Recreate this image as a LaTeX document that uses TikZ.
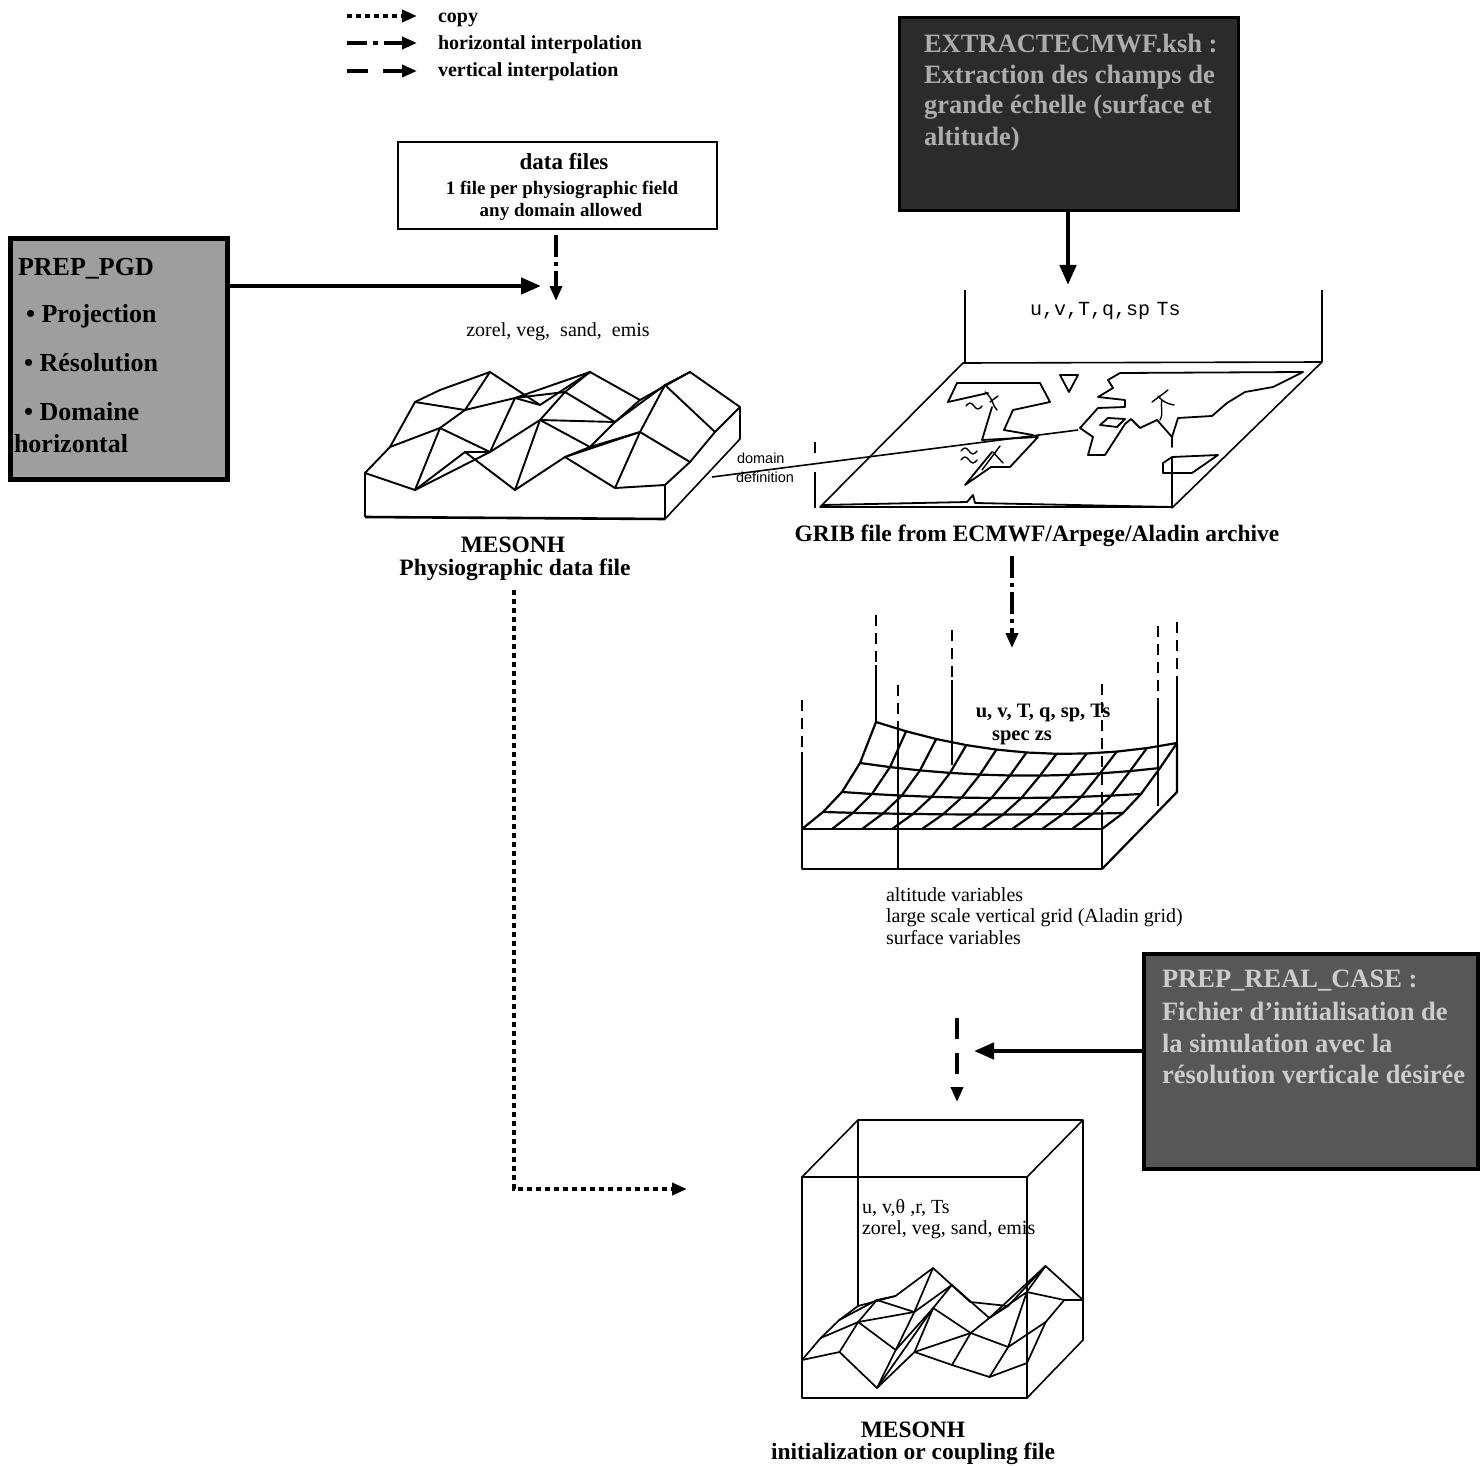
\documentclass[tikz,border=0pt]{standalone}
\usepackage{fontspec}
\setmainfont{Liberation Serif}
\setsansfont{Liberation Sans}
\setmonofont{Liberation Mono}
\usetikzlibrary{arrows.meta}
\newcommand\myfs[2]{\fontsize{#1pt}{#2pt}\selectfont}
\definecolor{pgdfill}{gray}{0.62}
\definecolor{extfill}{gray}{0.17}
\definecolor{exttext}{gray}{0.68}
\definecolor{rcfill}{gray}{0.34}
\definecolor{rctext}{gray}{0.80}
\begin{document}
\begin{tikzpicture}[x=1pt,y=-1pt,
  every node/.style={inner sep=0pt,outer sep=0pt},
  ln/.style={line width=1.6pt,line join=round},
  mesh/.style={line width=1.9pt,line join=round,line cap=round},
  mapl/.style={line width=1.8pt,line join=round,line cap=round},
  tip/.style={-{Triangle[length=15pt,width=12pt]}},
  thickarrow/.style={line width=4.5pt,-{Triangle[length=20pt,width=16pt]}},
  copyline/.style={line width=4pt,dash pattern=on 5pt off 4pt,tip},
  hinterp/.style={line width=3.6pt,dash pattern=on 22pt off 5pt on 4pt off 5pt,tip},
  vinterp/.style={line width=3.6pt,dash pattern=on 21pt off 14pt,tip},
  gdash/.style={line width=2.2pt,dash pattern=on 11pt off 7pt},
  legtxt/.style={font=\bfseries\myfs{20}{24},anchor=base west},
  lbl/.style={font=\myfs{20}{24}},
  blbl/.style={font=\bfseries\myfs{23.5}{27},anchor=base},
  pgdtxt/.style={font=\bfseries\myfs{26}{31},anchor=base west},
  dktxt/.style={font=\bfseries\myfs{26.5}{31},anchor=base west}
]
\useasboundingbox (0,0) rectangle (1481,1466);

% ---------------- legend ----------------
\coordinate (la1) at (347,16); \coordinate (lb1) at (417,16);
\coordinate (la2) at (347,43); \coordinate (lb2) at (417,43);
\coordinate (la3) at (347,71); \coordinate (lb3) at (417,71);
\draw[copyline] (la1) -- (lb1);
\draw[hinterp,dash pattern=on 20pt off 6pt on 5pt off 6pt] (la2) -- (lb2);
\draw[vinterp,dash pattern=on 21pt off 15pt] (la3) -- (lb3);
\node[legtxt] (lt1) at (438,23) {copy};
\node[legtxt] (lt2) at (438,50) {horizontal interpolation};
\node[legtxt] (lt3) at (438,77) {vertical interpolation};

% ---------------- data files box ----------------
\node[draw,line width=1.5pt,minimum width=319pt,minimum height=87pt] (df) at (557.5,185.5) {};
\node[font=\bfseries\myfs{23}{27},anchor=base] (dfa) at (564,170) {data files};
\node[font=\bfseries\myfs{19}{23},anchor=base] (dfb) at (562,195) {1 file per physiographic field};
\node[font=\bfseries\myfs{19}{23},anchor=base] (dfc) at (561,217) {any domain allowed};
\coordinate (dftip) at (556,301);
\draw[hinterp] (df.south -| dftip) ++(0,6) -- (dftip);

% ---------------- PREP_PGD box ----------------
\node[draw,line width=5pt,fill=pgdfill,minimum width=217pt,minimum height=240pt] (pgd) at (118.5,359) {};
\node[pgdtxt] (pg1) at (18,276) {PREP\_PGD};
\node[pgdtxt] (pg2) at (26,322) {• Projection};
\node[pgdtxt] (pg3) at (24,371) {• Résolution};
\node[pgdtxt] (pg4) at (24,420) {• Domaine};
\node[pgdtxt] (pg5) at (14,452) {horizontal};
\coordinate (pgdtip) at (541,286);
\draw[thickarrow] (pgd.east |- pgdtip) -- (pgdtip);

\node[lbl,anchor=base] (zor) at (558,336) {zorel, veg,\ \ sand,\ \ emis};

% ---------------- terrain 1 ----------------
\def\TA{{473,490,452,490,457,488,485}}
\def\TB{{447,428,452,420,447,432,462}}
\def\TC{{402,410,398,392,422,385,432}}
\def\TD{{390,372,405,372,400,372,407}}
\foreach \u in {0,...,6}{\pgfmathsetmacro\yy{\TA[\u]}\coordinate (A-\u-0) at ({365+50*\u},\yy);}
\foreach \u in {0,...,6}{\pgfmathsetmacro\yy{\TB[\u]}\coordinate (A-\u-1) at ({390+50*\u},\yy);}
\foreach \u in {0,...,6}{\pgfmathsetmacro\yy{\TC[\u]}\coordinate (A-\u-2) at ({415+50*\u},\yy);}
\foreach \u in {0,...,6}{\pgfmathsetmacro\yy{\TD[\u]}\coordinate (A-\u-3) at ({440+50*\u},\yy);}
\foreach \v in {0,...,3}{\draw[mesh] (A-0-\v) \foreach \u in {1,...,6}{ -- (A-\u-\v)};}
\foreach \u in {0,...,6}{\draw[mesh] (A-\u-0) -- (A-\u-1) -- (A-\u-2) -- (A-\u-3);}
\draw[mesh] (A-1-0) -- (A-2-1) (A-3-1) -- (A-4-2) (A-2-2) -- (A-3-3) (A-4-0) -- (A-5-1);
\coordinate (A-fl) at (365,517); \coordinate (A-fr) at (665,519); \coordinate (A-br) at (740,439);
\draw[ln] (A-0-0) -- (A-fl);
\draw[line width=2.6pt] (A-fl) -- (A-fr);
\draw[ln] (A-6-0) -- (A-fr) -- (A-br) -- (A-6-3);
\node[blbl] (meso1) at (513,552) {MESONH};
\node[blbl] (phys) at (515,575) {Physiographic data file};

% domain definition line
\coordinate (dd1) at (712,477); \coordinate (dd2) at (1078,430);
\draw[line width=1.6pt] (dd1) -- (dd2);
\node[font=\sffamily\myfs{14.5}{17},anchor=base west] (ddom) at (737,463) {domain};
\node[font=\sffamily\myfs{14.5}{17},anchor=base west] (ddef) at (736,482) {definition};

% ---------------- EXTRACT box ----------------
\node[draw,line width=3pt,fill=extfill,minimum width=339pt,minimum height=193pt] (ext) at (1069,114) {};
\node[dktxt,text=exttext] (ex1) at (924,53) {EXTRACTECMWF.ksh :};
\node[dktxt,text=exttext] (ex2) at (924,84) {Extraction des champs de};
\node[dktxt,text=exttext] (ex3) at (924,114) {grande échelle (surface et};
\node[dktxt,text=exttext] (ex4) at (924,146) {altitude)};
\coordinate (exttip) at (1068,285);
\draw[thickarrow] (ext.south -| exttip) -- (exttip);

% ---------------- GRIB map ----------------
\draw[ln] (965,290) -- (965,363);
\draw[ln] (1322,290) -- (1322,362);
\draw[ln] (963,363) -- (1322,362) -- (1173,507) -- (820,507) -- cycle;
\node[font=\ttfamily\myfs{20}{24},anchor=base west] (gvar) at (1030,316) {u,v,T,q,sp\,\,Ts};
\draw[ln] (815,442) -- (815,453);
\draw[ln] (815,472) -- (815,508);
% triangle
\draw[mapl] (1060,375) -- (1078,375) -- (1069,392) -- cycle;
% americas
\draw[mapl] (948,402) -- (957,383) -- (1040,383) -- (1050,402) -- (1013,410) -- (1004,430) -- (1033,435);
\draw[mapl] (948,402) -- (988,393);
\draw[mapl] (992,407) -- (982,440) -- (1038,437) -- (1010,467) -- (991,467) -- (965,485) -- (992,452);
% europe / asia / africa
\draw[mapl] (1125,424) -- (1105,455) -- (1088,455) -- (1093,437) -- (1080,428) -- (1098,408) -- (1125,407) -- (1125,400) -- (1098,397) -- (1113,388) -- (1108,380) -- (1120,373) -- (1303,372) -- (1273,387) -- (1245,392) -- (1227,403) -- (1212,416) -- (1178,418) -- (1172,437) -- (1157,420) -- (1140,428) -- (1131,419) -- (1125,424);
\draw[mapl] (1100,425) -- (1108,418) -- (1125,419) -- (1117,427) -- cycle;
\draw[mapl] (1172,437) -- (1172,447);
\draw[mapl] (1172,508) -- (1172,457) -- (1218,455) -- (1192,473) -- (1163,473) -- (1163,463) -- (1172,457);
\draw[mapl] (823,505) -- (967,502) -- (973,495) -- (975,503) -- (1172,507);
% squiggles and rivers
\draw[mapl,line width=1.4pt] (966,406) sin (970,403) cos (974,406) sin (978,409) cos (982,406);
\draw[mapl,line width=1.4pt] (961,451) sin (965,448) cos (969,451) sin (973,454) cos (977,451);
\draw[mapl,line width=1.4pt] (961,460) sin (965,457) cos (969,460) sin (973,463) cos (977,460);
\draw[mapl,line width=1.4pt] (985,392) .. controls (993,398) and (992,405) .. (997,410);
\draw[mapl,line width=1.4pt] (990,402) -- (998,396);
\draw[mapl,line width=1.4pt] (982,470) -- (1000,446);
\draw[mapl,line width=1.4pt] (993,452) -- (1003,463);
\draw[mapl,line width=1.4pt] (1152,402) .. controls (1160,396) and (1163,394) .. (1168,390);
\draw[mapl,line width=1.4pt] (1158,396) .. controls (1163,402) and (1168,404) .. (1174,405);
\draw[mapl,line width=1.4pt] (1162,400) .. controls (1160,408) and (1164,412) .. (1160,420);
\node[blbl] (grib) at (1037,541) {GRIB file from ECMWF/Arpege/Aladin archive};
\coordinate (gtip) at (1012,648);
\draw[hinterp] (grib.south -| gtip) ++(0,10) -- (gtip);

% ---------------- vertical grid block ----------------
\foreach \v/\lx/\ly/\rx/\ry/\s in {0/802/829/1102/829/0,1/823/812/1123/813/2,2/842/792/1141/794/5,3/860/763/1160/768/10,4/876/722/1177/743/20}{
  \foreach \u in {0,...,10}{
    \pgfmathsetmacro\tt{\u/10}
    \coordinate (G-\u-\v) at ({\lx+\tt*(\rx-\lx)},{\ly+\tt*(\ry-\ly)+\s*4*\tt*(1-\tt)});
  }
}
% verticals
\draw[gdash] (876,615) -- (876,665); \draw[line width=2.2pt] (876,665) -- (876,722);
\draw[gdash] (898,685) -- (898,730); \draw[line width=2.2pt] (898,730) -- (898,869);
\draw[gdash] (952,630) -- (952,680); \draw[line width=2.2pt] (952,680) -- (952,765);
\draw[gdash] (1102,684) -- (1102,812); \draw[line width=2.2pt] (1102,812) -- (1102,869);
\draw[gdash] (1158,626) -- (1158,698); \draw[line width=2.2pt] (1158,698) -- (1158,806);
\draw[gdash] (1177,622) -- (1177,680); \draw[line width=2.2pt] (1177,680) -- (1177,743);
\draw[gdash] (802,700) -- (802,752); \draw[line width=2.2pt] (802,752) -- (802,869);
\foreach \v in {0,...,4}{\draw[mesh,line width=2.2pt] (G-0-\v) \foreach \u in {1,...,10}{ -- (G-\u-\v)};}
\foreach \u in {0,...,10}{\draw[mesh,line width=2.2pt] (G-\u-0) -- (G-\u-1) -- (G-\u-2) -- (G-\u-3) -- (G-\u-4);}
\coordinate (G-bl) at (802,869); \coordinate (G-br) at (1102,869); \coordinate (G-sb) at (1177,792);
\draw[ln,line width=2.2pt] (G-0-0) -- (G-bl) -- (G-br) -- (G-10-0);
\draw[ln,line width=2.2pt] (G-br) -- (G-sb) -- (G-10-4);
\node[font=\bfseries\myfs{20.5}{24},anchor=base] (gv1) at (1043,717) {u, v, T, q, sp, Ts};
\node[font=\bfseries\myfs{20.5}{24},anchor=base] (gv2) at (1022,740) {spec zs};
\node[lbl,anchor=base west] (al1) at (886,901) {altitude variables};
\node[lbl,anchor=base west] (al2) at (886,922) {large scale vertical grid (Aladin grid)};
\node[lbl,anchor=base west] (al3) at (886,944) {surface variables};

% ---------------- PREP_REAL_CASE ----------------
\node[draw,line width=4pt,fill=rcfill,minimum width=334pt,minimum height=215pt] (rc) at (1310.5,1061) {};
\node[dktxt,text=rctext] (rc1) at (1162,987) {PREP\_REAL\_CASE :};
\node[dktxt,text=rctext] (rc2) at (1162,1020) {Fichier d'initialisation de};
\node[dktxt,text=rctext] (rc3) at (1162,1052) {la simulation avec la};
\node[dktxt,text=rctext] (rc4) at (1162,1083) {résolution verticale désirée};
\coordinate (rctip) at (974,1051);
\draw[thickarrow] (rc.west |- rctip) -- (rctip);
\coordinate (vstart) at (957,1018); \coordinate (vtip) at (957,1102);
\draw[vinterp] (vstart) -- (vtip);

% ---------------- copy arrow ----------------
\coordinate (ctip) at (687,1189);
\draw[copyline] (phys.south) ++(-1,10) |- (ctip);

% ---------------- bottom box ----------------
\def\BA{{1360,1352,1388,1352,1365,1377,1363}}
\def\BB{{1338,1322,1350,1308,1333,1347,1322}}
\def\BC{{1320,1300,1312,1285,1318,1292,1300}}
\def\BD{{1306,1296,1268,1302,1306,1266,1300}}
\foreach \u in {0,...,6}{\pgfmathsetmacro\yy{\BA[\u]}\coordinate (B-\u-0) at ({802+37.5*\u},\yy);}
\foreach \u in {0,...,6}{\pgfmathsetmacro\yy{\BB[\u]}\coordinate (B-\u-1) at ({820.7+37.5*\u},\yy);}
\foreach \u in {0,...,6}{\pgfmathsetmacro\yy{\BC[\u]}\coordinate (B-\u-2) at ({839.3+37.5*\u},\yy);}
\foreach \u in {0,...,6}{\pgfmathsetmacro\yy{\BD[\u]}\coordinate (B-\u-3) at ({858+37.5*\u},\yy);}
\coordinate (K-ftl) at (802,1177); \coordinate (K-ftr) at (1027,1177);
\coordinate (K-fbl) at (802,1398); \coordinate (K-fbr) at (1027,1398);
\coordinate (K-btl) at (858,1120); \coordinate (K-btr) at (1083,1120);
\coordinate (K-bbr) at (1083,1340);
\draw[ln] (K-ftl) -- (K-ftr) -- (K-fbr) -- (K-fbl) -- cycle;
\draw[ln] (K-ftl) -- (K-btl) -- (K-btr) -- (K-ftr);
\draw[ln] (K-btl) -- (B-0-3);
\draw[ln] (K-btr) -- (B-6-3);
\draw[ln] (K-fbr) -- (K-bbr) -- (B-6-3);
\foreach \v in {0,...,3}{\draw[mesh,line width=1.7pt] (B-0-\v) \foreach \u in {1,...,6}{ -- (B-\u-\v)};}
\foreach \u in {0,...,6}{\draw[mesh,line width=1.7pt] (B-\u-0) -- (B-\u-1) -- (B-\u-2) -- (B-\u-3);}
\draw[mesh,line width=1.7pt] (B-1-1) -- (B-2-2) (B-3-0) -- (B-4-1) (B-4-2) -- (B-5-3) (B-2-0) -- (B-3-1);
\node[lbl,anchor=base west] (bv1) at (862,1213) {u, v,θ ,r, Ts};
\node[lbl,anchor=base west] (bv2) at (862,1234) {zorel, veg, sand, emis};
\node[blbl] (meso2) at (913,1437) {MESONH};
\node[blbl] (coup) at (913,1459) {initialization or coupling file};
\end{tikzpicture}
\end{document}
